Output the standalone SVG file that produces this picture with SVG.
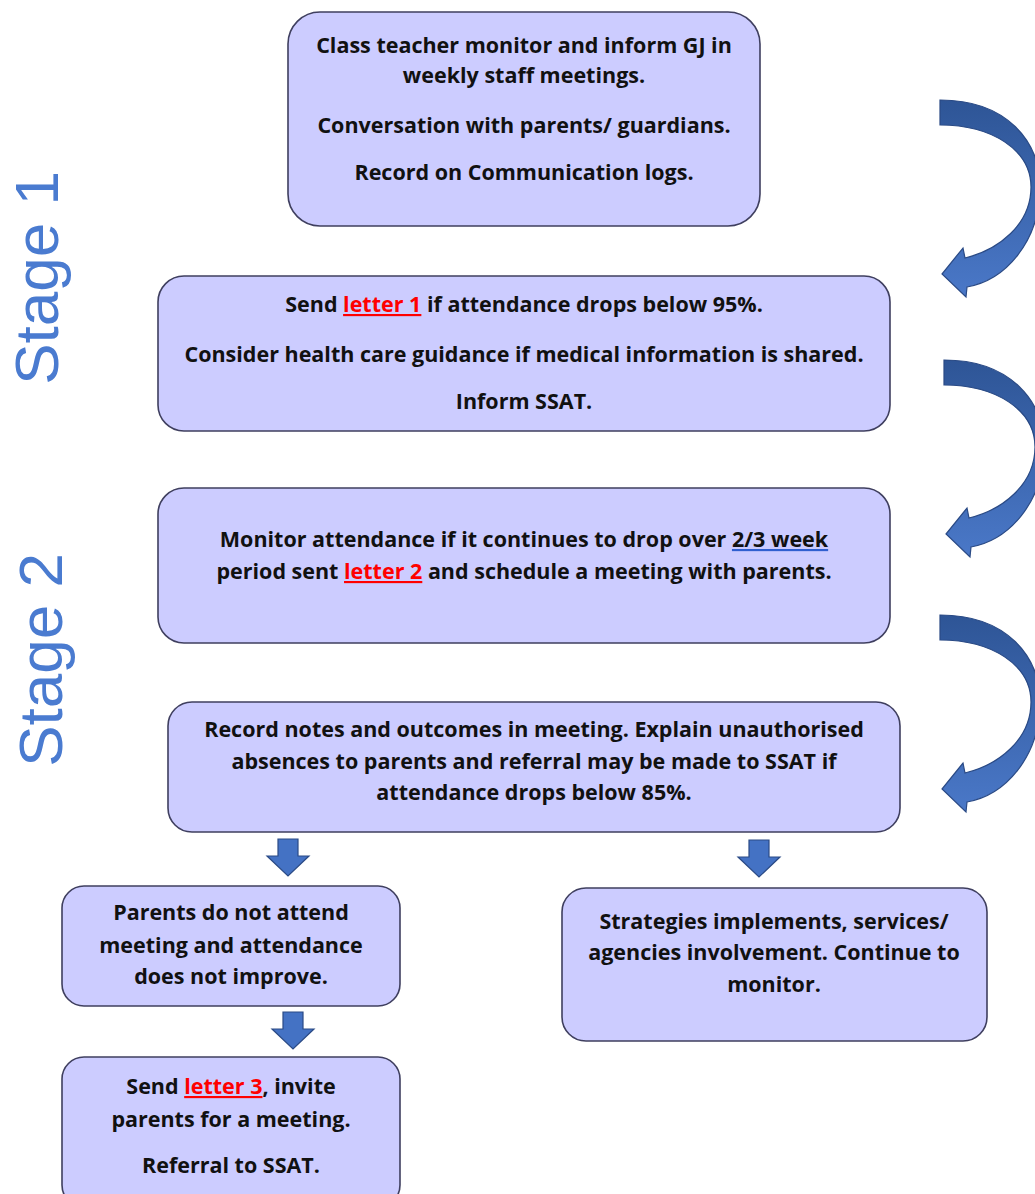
<svg xmlns="http://www.w3.org/2000/svg" width="1035" height="1194" viewBox="0 0 1035 1194">
<style>
.box{fill:#ccccff;stroke:#3f3f5f;stroke-width:1.6}
.t{font-family:"Open Sans","Liberation Sans",sans-serif;font-weight:bold;font-size:21.5px;fill:#111;text-anchor:middle}
.red{fill:#ff0000;text-decoration:underline}
.stage{font-family:"Liberation Sans",Arial,sans-serif;font-size:62px;fill:#4a7bd0;text-anchor:middle}
.carrow{fill:url(#g);stroke:#2a4a85;stroke-width:1.2}
.darrow{fill:#4472c4;stroke:#2a4a85;stroke-width:1.2}
</style>
<defs>
<linearGradient id="g" x1="0" y1="0" x2="0" y2="1">
<stop offset="0" stop-color="#2e5596"/>
<stop offset="1" stop-color="#4a78c8"/>
</linearGradient>
<path id="curve" d="M 0,0 C 65,0 102,40 100,92 C 98,142 66,180 27,187 L 26,197 L 2,174 L 23,148 L 25,158 C 58,150 91,125 91,87 C 91,50 52,25 0,25 Z"/>
<path id="down" d="M -10,0 L 10,0 L 10,17 L 21,17 L 0,37 L -21,17 L -10,17 Z"/>
</defs>

<g id="labels">
<text class="stage" transform="translate(58,278) rotate(-90)">Stage 1</text>
<text class="stage" transform="translate(62,660) rotate(-90)">Stage 2</text>
</g>

<g id="connectors">
<use href="#curve" class="carrow" x="940" y="100"/>
<use href="#curve" class="carrow" x="944" y="360"/>
<use href="#curve" class="carrow" x="940" y="615"/>
<use href="#down" class="darrow" x="288" y="839"/>
<use href="#down" class="darrow" x="759" y="840"/>
<use href="#down" class="darrow" x="293" y="1012"/>
</g>

<g id="node1">
<rect class="box" x="288" y="12" width="472" height="214" rx="32"/>
<text class="t" x="524" y="53">Class teacher monitor and inform GJ in</text>
<text class="t" x="524" y="83">weekly staff meetings.</text>
<text class="t" x="524" y="133">Conversation with parents/ guardians.</text>
<text class="t" x="524" y="180">Record on Communication logs.</text>
</g>

<g id="node2">
<rect class="box" x="158" y="276" width="732" height="155" rx="26"/>
<text class="t" x="524" y="312">Send <tspan class="red">letter 1</tspan> if attendance drops below 95%.</text>
<text class="t" x="524" y="362">Consider health care guidance if medical information is shared.</text>
<text class="t" x="524" y="409">Inform SSAT.</text>
</g>

<g id="node3">
<rect class="box" x="158" y="488" width="732" height="155" rx="26"/>
<text class="t" x="524" y="547">Monitor attendance if it continues to drop over <tspan fill="#2f5fd0" text-decoration="underline"><tspan fill="#111">2/3 week</tspan></tspan></text>
<text class="t" x="524" y="579">period sent <tspan class="red">letter 2</tspan> and schedule a meeting with parents.</text>
</g>

<g id="node4">
<rect class="box" x="168" y="702" width="732" height="130" rx="24"/>
<text class="t" x="534" y="737">Record notes and outcomes in meeting. Explain unauthorised</text>
<text class="t" x="534" y="769">absences to parents and referral may be made to SSAT if</text>
<text class="t" x="534" y="800">attendance drops below 85%.</text>
</g>

<g id="node5">
<rect class="box" x="62" y="886" width="338" height="120" rx="22"/>
<text class="t" x="231" y="920">Parents do not attend</text>
<text class="t" x="231" y="953">meeting and attendance</text>
<text class="t" x="231" y="984">does not improve.</text>
</g>

<g id="node6">
<rect class="box" x="562" y="888" width="425" height="153" rx="24"/>
<text class="t" x="774" y="929">Strategies implements, services/</text>
<text class="t" x="774" y="960">agencies involvement. Continue to</text>
<text class="t" x="774" y="992">monitor.</text>
</g>

<g id="node7">
<rect class="box" x="62" y="1057" width="338" height="150" rx="22"/>
<text class="t" x="231" y="1094">Send <tspan class="red">letter 3</tspan>, invite</text>
<text class="t" x="231" y="1127">parents for a meeting.</text>
<text class="t" x="231" y="1173">Referral to SSAT.</text>
</g>
</svg>
